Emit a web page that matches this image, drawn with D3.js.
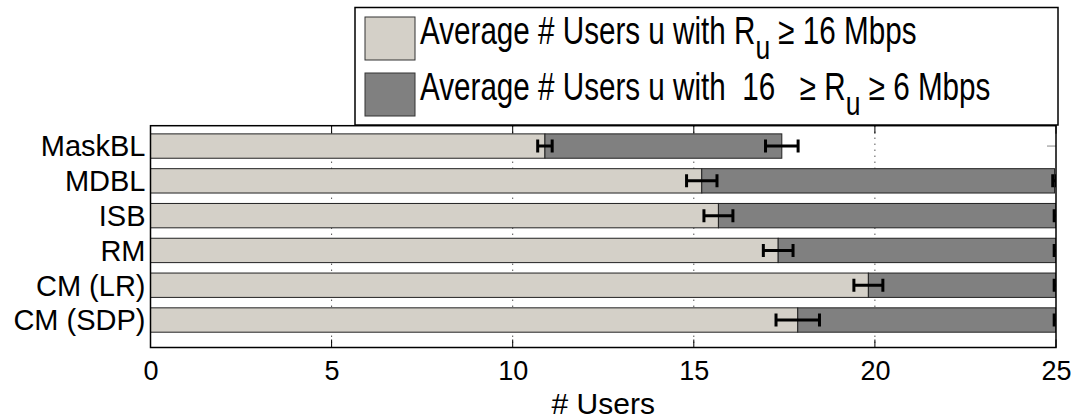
<!DOCTYPE html>
<html>
<head>
<meta charset="utf-8">
<script src="https://cdn.jsdelivr.net/npm/d3@7"></script>
<style>
  html, body { margin: 0; padding: 0; background: #fff; }
  svg { display: block; }
</style>
</head>
<body>
<svg id="chart" width="1081" height="419"></svg>
<script>
// Schemes, top to bottom
const categories = ["MaskBL", "MDBL", "ISB", "RM", "CM (LR)", "CM (SDP)"];
// Average number of users with R_u >= 16 Mbps
const highRate = [10.89, 15.22, 15.68, 17.33, 19.82, 17.87];
const highRateErr = [0.20, 0.42, 0.40, 0.41, 0.40, 0.60];
// Average number of users with 16 >= R_u >= 6 Mbps
const midRate = [6.54, 9.74, 9.32, 7.67, 5.18, 7.13];
const totalErr = [0.45, 0.05, 0.05, 0.05, 0.05, 0.05];
const xTicks = [0, 5, 10, 15, 20, 25];

const seriesKeys = ["high", "mid"];
const seriesColors = { high: "#d4d0c8", mid: "#808080" };

const rows = categories.map((c, i) => ({
  name: c, idx: i + 1, high: highRate[i], mid: midRate[i],
  highErr: highRateErr[i], totalErr: totalErr[i]
}));
const stacked = d3.stack().keys(seriesKeys)(rows);

const svg = d3.select("#chart");
const plotLeft = 150.5, plotRight = 1056, plotTop = 125.7, plotBottom = 347.5;
const FONT = "'Liberation Sans', Arial, Helvetica, sans-serif";

const x = d3.scaleLinear().domain([0, 25]).range([plotLeft, plotRight]);
const y = d3.scaleLinear().domain([0.415, 6.79]).range([plotTop, plotBottom]);
const barH = y(0.7) - y(0);

svg.append("defs").append("clipPath").attr("id", "plotClip")
  .append("rect").attr("x", plotLeft).attr("y", plotTop)
  .attr("width", plotRight - plotLeft).attr("height", plotBottom - plotTop);

// dotted vertical grid
svg.append("g").selectAll("line").data(xTicks.slice(1, -1)).join("line")
  .attr("x1", d => x(d)).attr("x2", d => x(d))
  .attr("y1", plotTop).attr("y2", plotBottom)
  .attr("stroke", "#000").attr("stroke-width", 1)
  .attr("stroke-dasharray", "1,5");

// inward ticks on the top and bottom edges
const tickLen = 8;
const tk = svg.append("g").attr("stroke", "#000").attr("stroke-width", 1);
tk.selectAll("line.b").data(xTicks).join("line").attr("class", "b")
  .attr("x1", d => x(d)).attr("x2", d => x(d))
  .attr("y1", plotBottom).attr("y2", plotBottom - tickLen);
tk.selectAll("line.t").data(xTicks).join("line").attr("class", "t")
  .attr("x1", d => x(d)).attr("x2", d => x(d))
  .attr("y1", plotTop).attr("y2", plotTop + tickLen);
// category ticks on the right edge
tk.selectAll("line.r").data(rows).join("line").attr("class", "r")
  .attr("x1", plotRight).attr("x2", plotRight - 9)
  .attr("y1", d => y(d.idx)).attr("y2", d => y(d.idx))
  .attr("stroke", "#888");

// stacked bars
const plot = svg.append("g").attr("clip-path", "url(#plotClip)");
plot.selectAll("g.series").data(stacked).join("g").attr("class", "series")
  .attr("fill", d => seriesColors[d.key])
  .selectAll("rect").data(d => d).join("rect")
  .attr("x", d => x(d[0]))
  .attr("width", d => x(d[1]) - x(d[0]))
  .attr("y", d => y(d.data.idx) - barH / 2)
  .attr("height", barH)
  .attr("stroke", "#222").attr("stroke-width", 1);

// error bars at the end of each segment
const errs = [];
rows.forEach((r, i) => {
  errs.push({ v: stacked[0][i][1], e: r.highErr, idx: r.idx });
  errs.push({ v: stacked[1][i][1], e: r.totalErr, idx: r.idx });
});
const capH = 13;
const eg = plot.append("g").attr("stroke", "#000").attr("stroke-width", 3);
errs.forEach(d => {
  const cy = y(d.idx);
  eg.append("line").attr("x1", x(d.v - d.e)).attr("x2", x(d.v + d.e))
    .attr("y1", cy).attr("y2", cy);
  [d.v - d.e, d.v + d.e].forEach(xv => {
    eg.append("line").attr("x1", x(xv)).attr("x2", x(xv))
      .attr("y1", cy - capH / 2).attr("y2", cy + capH / 2);
  });
});

// axes box
svg.append("rect").attr("x", plotLeft).attr("y", plotTop)
  .attr("width", plotRight - plotLeft).attr("height", plotBottom - plotTop)
  .attr("fill", "none").attr("stroke", "#000").attr("stroke-width", 1.5);

// x tick labels
const xAxis = d3.axisBottom(x).tickValues(xTicks).tickSize(0).tickPadding(13)
  .tickFormat(d3.format("d"));
const gx = svg.append("g").attr("transform", `translate(0,${plotBottom})`).call(xAxis);
gx.select(".domain").remove();
gx.selectAll("text").attr("font-family", FONT)
  .attr("font-size", 27).attr("fill", "#000");

const cx = (plotLeft + plotRight) / 2;
svg.append("text").attr("x", cx).attr("y", 414)
  .attr("text-anchor", "middle")
  .attr("font-family", FONT)
  .attr("font-size", 30).text("# Users");

// category labels
svg.append("g").selectAll("text").data(rows).join("text")
  .attr("x", plotLeft - 5).attr("y", d => y(d.idx)).attr("dy", "0.36em")
  .attr("text-anchor", "end")
  .attr("font-family", FONT)
  .attr("font-size", 29).text(d => d.name);

// legend
const lg = svg.append("g");
lg.append("rect").attr("x", 355).attr("y", 7.5).attr("width", 703).attr("height", 117.5)
  .attr("fill", "#fff").attr("stroke", "#000").attr("stroke-width", 1.5);
const legendItems = [
  { key: "high", y: 17, parts: [["Average # Users u with R", 0], ["u", 1], [" \u2265 16 Mbps", 0]] },
  { key: "mid", y: 73, parts: [["Average # Users u with  16   \u2265 R", 0], ["u", 1], [" \u2265 6 Mbps", 0]] }
];
const textX = 420, squeeze = 0.78;
legendItems.forEach(it => {
  lg.append("rect").attr("x", 365).attr("y", it.y).attr("width", 50).attr("height", 43)
    .attr("fill", seriesColors[it.key]).attr("stroke", "#333").attr("stroke-width", 1);
  const t = lg.append("text").attr("x", textX).attr("y", it.y + 27)
    .attr("transform", `translate(${textX},0) scale(${squeeze},1) translate(${-textX},0)`)
    .attr("font-family", FONT)
    .attr("font-size", 38).attr("xml:space", "preserve").style("white-space", "pre");
  let shift = 0;
  it.parts.forEach(([s, sub]) => {
    const dy = (sub ? 15 : 0) - shift;
    shift = sub ? 15 : 0;
    t.append("tspan").attr("dy", dy || null).attr("font-size", sub ? 34 : null).text(s);
  });
});
</script>
</body>
</html>
